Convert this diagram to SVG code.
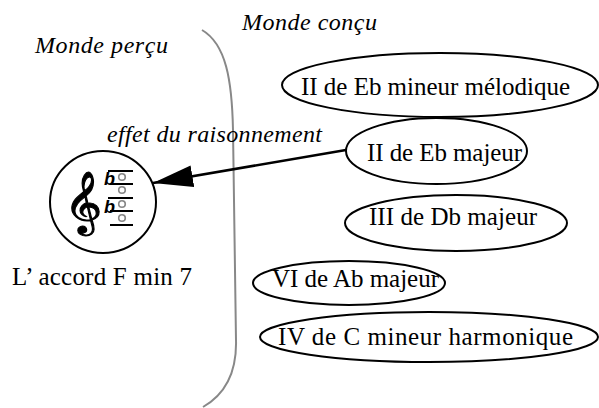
<svg xmlns="http://www.w3.org/2000/svg" width="599" height="408" viewBox="0 0 599 408">
<style>
.lbl{font-family:"Liberation Serif","Times New Roman",serif;font-size:25px;fill:#000}
.it{font-family:"Liberation Serif","Times New Roman",serif;font-style:italic;font-size:24px;fill:#000}
.ell{fill:none;stroke:#000;stroke-width:2}
.staff{stroke:#000;stroke-width:2}
.note{fill:none;stroke:#888;stroke-width:1.6}
.flat{font-family:"Liberation Sans",sans-serif;font-weight:bold;font-style:italic;font-size:18px;fill:#000}
</style>
<defs>
<marker id="ah" markerUnits="userSpaceOnUse" markerWidth="42" markerHeight="24" refX="40" refY="11" orient="auto">
<path d="M0,0 L40,11 L0,22 Z" fill="#000"/>
</marker>
</defs>
<rect width="599" height="408" fill="#fff"/>
<path d="M202,30 C226,44 232,80 233,130 L236,340 C237,376 222,396 203,407" fill="none" stroke="#888" stroke-width="2"/>
<text class="it" x="35" y="53" textLength="133" lengthAdjust="spacing">Monde perçu</text>
<text class="it" x="242" y="30" textLength="135" lengthAdjust="spacing">Monde conçu</text>
<text class="it" x="107" y="142" textLength="215" lengthAdjust="spacing">effet du raisonnement</text>
<g id="chord">
<ellipse cx="103" cy="202" rx="53" ry="51" class="ell"/>
<text x="0" y="0" transform="translate(64,220) scale(1.2,1)" font-family="DejaVu Sans, Noto Sans, sans-serif" font-size="54" stroke="#000" stroke-width="1">𝄞</text>
<line x1="108" y1="171" x2="133" y2="171" class="staff"/>
<line x1="110" y1="184" x2="133" y2="184" class="staff"/>
<line x1="108" y1="198" x2="133" y2="198" class="staff"/>
<line x1="110" y1="211" x2="133" y2="211" class="staff"/>
<line x1="110" y1="225" x2="133" y2="225" class="staff"/>
<text class="flat" x="104" y="185">b</text>
<text class="flat" x="104" y="213">b</text>
<circle cx="122" cy="177" r="3.3" class="note"/>
<circle cx="122" cy="190" r="3.3" class="note"/>
<circle cx="122" cy="204" r="3.3" class="note"/>
<circle cx="122" cy="218" r="3.3" class="note"/>
<text class="lbl" x="12" y="285" font-size="24" textLength="180" lengthAdjust="spacing">L’ accord F min 7</text>
</g>
<g id="n1"><ellipse cx="440" cy="85" rx="158" ry="32" class="ell"/><text class="lbl" x="301" y="95" textLength="269" lengthAdjust="spacing">II de Eb mineur mélodique</text></g>
<g id="n2"><ellipse cx="436.5" cy="151" rx="90.5" ry="33" class="ell"/><text class="lbl" x="367" y="161" textLength="155" lengthAdjust="spacing">II de Eb majeur</text></g>
<g id="n3"><ellipse cx="456" cy="223" rx="111" ry="28" class="ell"/><text class="lbl" x="369" y="225" textLength="168" lengthAdjust="spacing">III de Db majeur</text></g>
<g id="n4"><ellipse cx="349" cy="283" rx="96" ry="22" class="ell"/><text class="lbl" x="272" y="287" textLength="167" lengthAdjust="spacing">VI de Ab majeur</text></g>
<g id="n5"><ellipse cx="429" cy="337" rx="169" ry="25" class="ell"/><text class="lbl" x="278" y="345" textLength="295" lengthAdjust="spacing">IV de C mineur harmonique</text></g>
<g id="connectors">
<line x1="346" y1="150" x2="153" y2="183" stroke="#000" stroke-width="2.5" marker-end="url(#ah)"/>
</g>
</svg>
